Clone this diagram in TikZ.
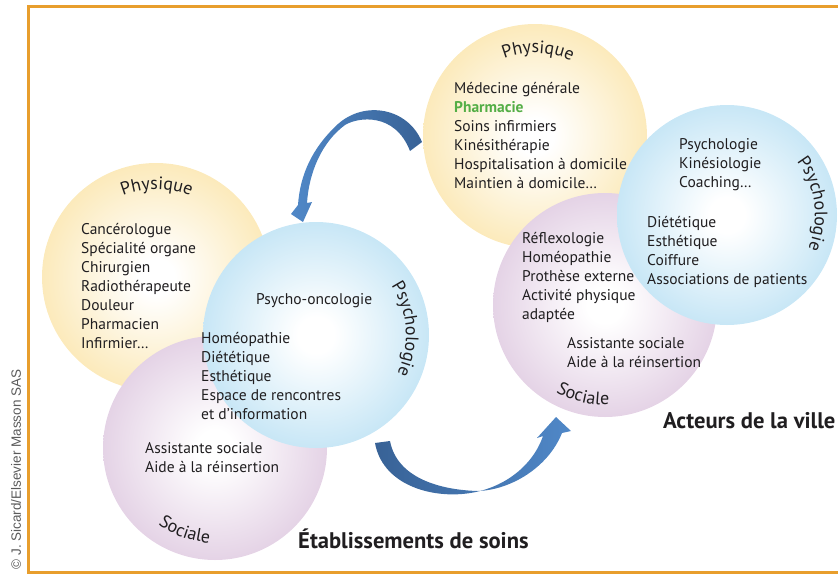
\documentclass[tikz,border=0pt]{standalone}
\usepackage{fontspec}
\setmainfont{PT Sans}
\newfontfamily\copyfont{Liberation Sans}
\usetikzlibrary{decorations.text}
\definecolor{txt}{RGB}{32,30,32}
\definecolor{yedge}{RGB}{250,225,158}
\definecolor{bedge}{RGB}{176,220,242}
\definecolor{pedge}{RGB}{217,192,219}
\definecolor{framec}{RGB}{232,158,45}
\definecolor{adark}{RGB}{56,98,150}
\definecolor{alight}{RGB}{80,136,200}
\definecolor{pgreen}{RGB}{84,174,70}
\definecolor{copyc}{RGB}{90,90,90}
\pgfdeclareradialshading{yball}{\pgfpoint{0bp}{0bp}}{color(0bp)=(white); color(4bp)=(white); color(25bp)=(yedge!70!white); color(50bp)=(yedge)}
\pgfdeclareradialshading{bball}{\pgfpoint{0bp}{0bp}}{color(0bp)=(white); color(4bp)=(white); color(25bp)=(bedge!70!white); color(50bp)=(bedge)}
\pgfdeclareradialshading{pball}{\pgfpoint{0bp}{0bp}}{color(0bp)=(white); color(4bp)=(white); color(25bp)=(pedge!70!white); color(50bp)=(pedge)}
\newcommand\itemfont{\fontsize{15.5}{19}\selectfont}
\newcommand\curvefont{\fontsize{18}{20}\selectfont\color{txt}}
\begin{document}
\begin{tikzpicture}[x=1pt,y=1pt,
  item/.style={anchor=base west, inner sep=0pt, text=txt, font=\itemfont},
  title/.style={anchor=base west, inner sep=0pt, text=txt, font=\fontsize{22.6}{25}\selectfont\bfseries},
  curved/.style={decorate, decoration={text along path, text align=center, text={|\curvefont|#1}}}]
\useasboundingbox (0,0) rectangle (838,-574);

% ---- left group circles
\shade[shading=yball] (156,-277) circle[radius=114];
\shade[shading=pball] (215,-448) circle[radius=112];
\shade[shading=bball] (316,-335) circle[radius=113];
% ---- right group circles
\shade[shading=yball] (535,-136) circle[radius=112];
\shade[shading=pball] (605,-305) circle[radius=112];
\shade[shading=bball] (727,-215) circle[radius=110];

% ---- arrows
\shade[left color=alight, right color=adark]
  (422,-142) .. controls (408,-108) and (365,-100) .. (338,-124)
  .. controls (312,-148) and (300,-175) .. (298,-205)
  -- (291,-214) -- (303,-222) -- (312,-202) -- (307,-203)
  .. controls (309,-172) and (322,-142) .. (345,-125)
  .. controls (358,-117) and (395,-112) .. (410,-151) -- cycle;
\shade[left color=adark, right color=alight]
  (375,-443) .. controls (382,-482) and (425,-497) .. (462,-494)
  .. controls (500,-491) and (532,-468) .. (543,-436)
  -- (537,-438) -- (556,-417) -- (571,-431) -- (562,-433)
  .. controls (548,-468) and (510,-490) .. (478,-491)
  .. controls (440,-490) and (397,-478) .. (390,-441) -- cycle;

% ---- curved labels
\path[curved=Physique] (156,-277) ++(124.5:88) arc[start angle=124.5, end angle=54.5, radius=88];
\path[curved=Psychologie] (316,-335) ++(39:90) arc[start angle=39, end angle=-31, radius=90];
\path[curved=Sociale] (215,-448) ++(-145:95) arc[start angle=-145, end angle=-75, radius=95];
\path[curved=Physique] (535,-136) ++(123:83) arc[start angle=123, end angle=53, radius=83];
\path[curved=Psychologie] (727,-215) ++(42.5:88) arc[start angle=42.5, end angle=-27.5, radius=88];
\path[curved=Sociale] (605,-305) ++(-138.5:100) arc[start angle=-138.5, end angle=-68.5, radius=100];

% ---- left group texts
\foreach \t [count=\i from 0] in {Cancérologue, Spécialité organe, Chirurgien, Radiothérapeute, Douleur, Pharmacien, Infirmier…}
  \node[item] (ly\i) at (81,{-234.5-19*\i}) {\t};
\node[item] (lb0) at (256,-304.5) {Psycho-oncologie};
\foreach \t [count=\i from 1] in {Homéopathie, Diététique, Esthétique, Espace de rencontres, et d’information}
  \node[item] (lb\i) at (201,{-343.5-19*(\i-1)}) {\t};
\node[item] (lp1) at (145,-453.5) {Assistante sociale};
\node[item] (lp2) at (145,-472.5) {Aide à la réinsertion};

% ---- right group texts
\node[item] (ry0) at (454,-93.5) {Médecine générale};
\node[item, text=pgreen, font=\itemfont\bfseries] (ry1) at (454,-112.5) {Pharmacie};
\node[item] (ry2) at (454,-131.5) {Soins infirmiers};
\node[item] (ry3) at (454,-150.5) {Kinésithérapie};
\node[item] (ry4) at (454,-169.5) {Hospitalisation à domicile};
\node[item] (ry5) at (454,-188.5) {Maintien à domicile…};
\foreach \t [count=\i from 0] in {Psychologie, Kinésiologie, Coaching…}
  \node[item] (rb\i) at (679,{-149.5-19*\i}) {\t};
\foreach \t [count=\i from 3] in {Diététique, Esthétique, Coiffure, Associations de patients}
  \node[item] (rb\i) at (647,{-227.5-19*(\i-3)}) {\t};
\foreach \t [count=\i from 0] in {Réflexologie, Homéopathie, Prothèse externe, Activité physique, adaptée}
  \node[item] (rp\i) at (522,{-243.5-19*\i}) {\t};
\node[item] (rp5) at (567,-348.5) {Assistante sociale};
\node[item] (rp6) at (567,-367.5) {Aide à la réinsertion};

% ---- titles
\node[title] (etab) at (298,-548) {Établissements de soins};
\node[title] (acteurs) at (663,-428) {Acteurs de la ville};

% ---- frame and credit
\draw[framec, line width=3pt] (838,-6.5) -- (28.5,-6.5) -- (28.5,-572) -- (838,-572);
\node[rotate=90, inner sep=0pt, text=copyc, font=\copyfont\fontsize{13.5}{15}\selectfont] (credit) at (16,-469.5) {© J. Sicard/Elsevier Masson SAS};
\end{tikzpicture}
\end{document}
